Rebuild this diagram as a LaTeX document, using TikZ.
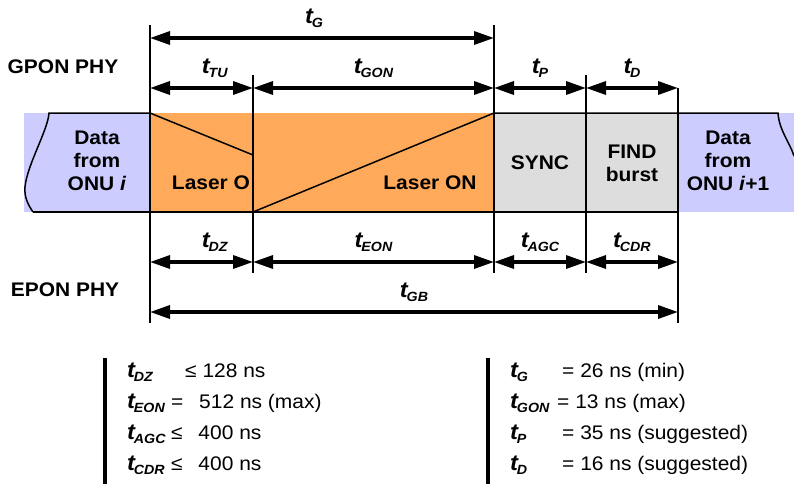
\documentclass[tikz,border=0pt]{standalone}
\usepackage{fontspec}
\setmainfont{Liberation Sans}[FakeStretch=1.065]
\usetikzlibrary{arrows.meta, positioning}
\definecolor{onublue}{RGB}{204,204,255}
\definecolor{laserorange}{RGB}{255,170,90}
\definecolor{syncgray}{RGB}{221,221,221}
\newcommand{\tlab}[1]{{\fontsize{19pt}{20pt}\selectfont\bfseries\itshape t\kern-1pt\raisebox{-3.5pt}{\fontsize{11.4pt}{12pt}\selectfont #1}}}
\tikzset{
  basetext/.style={font=\fontsize{16.8pt}{19.5pt}\selectfont\bfseries, align=center, inner sep=0pt},
  phylabel/.style={basetext},
  blocktext/.style={basetext},
  timelabel/.style={font=\fontsize{16.8pt}{19.5pt}\selectfont, inner sep=0pt, above=2.7mm},
  dimarrow/.style={{Triangle[length=6mm,width=3.9mm]}-{Triangle[length=6mm,width=3.9mm]}, line width=1mm},
  tick/.style={line width=0.45mm},
  outline/.style={line width=0.45mm},
  legendrow/.style={font=\fontsize{16.8pt}{19.5pt}\selectfont, anchor=base west, inner sep=0pt},
  legendbar/.style={line width=1mm}
}

\begin{document}
\begin{tikzpicture}[x=0.3mm, y=-0.3mm]
  \useasboundingbox (0,0) rectangle (794,486);

  % burst band
  \fill[onublue] (24,113) rectangle (150,212);
  \fill[laserorange] (150,113) rectangle (494,212);
  \fill[syncgray] (494,113) rectangle (678,212);
  \fill[onublue] (678,113) rectangle (794,212);
  \draw[outline] (150,113) -- (253,155);
  \draw[outline] (253,212) -- (494,113);
  \draw[outline] (33,212) -- (678,212);
  \draw[outline] (150,113) -- (49,113) .. controls (48,130) and (27,165) .. (25,187)
                 .. controls (24,198) and (29,206) .. (33,212);
  \draw[outline] (494,113) -- (778,113) .. controls (779,130) and (790,143) .. (794,156);

  % ticks
  \foreach \x/\ya/\yb in {150/25/323, 253/75/273, 494/25/273, 586/75/273, 678/88/323}
    \draw[tick] (\x,\ya) -- (\x,\yb);

  \coordinate (gA) at (150,38);
  \coordinate (gB) at (494,38);
  \coordinate (pA) at (150,88);
  \coordinate (pB) at (253,88);
  \coordinate (pC) at (494,88);
  \coordinate (pD) at (586,88);
  \coordinate (pE) at (678,88);
  \coordinate (eA) at (150,262);
  \coordinate (eB) at (253,262);
  \coordinate (eC) at (494,262);
  \coordinate (eD) at (586,262);
  \coordinate (eE) at (678,262);
  \coordinate (gbA) at (150,312);
  \coordinate (gbB) at (678,312);

  % GPON timing
  \draw[dimarrow] (gA) -- node[timelabel, xshift=-2.4mm] (tG) {\tlab{G}} (gB);
  \draw[dimarrow] (pA) -- node[timelabel, xshift=4mm] (tTU) {\tlab{TU}} (pB);
  \draw[dimarrow] (pB) -- node[timelabel] (tGON) {\tlab{GON}} (pC);
  \draw[dimarrow] (pC) -- node[timelabel] (tP) {\tlab{P}} (pD);
  \draw[dimarrow] (pD) -- node[timelabel] (tD) {\tlab{D}} (pE);

  % EPON timing
  \draw[dimarrow] (eA) -- node[timelabel, xshift=4mm] (tDZ) {\tlab{DZ}} (eB);
  \draw[dimarrow] (eB) -- node[timelabel] (tEON) {\tlab{EON}} (eC);
  \draw[dimarrow] (eC) -- node[timelabel] (tAGC) {\tlab{AGC}} (eD);
  \draw[dimarrow] (eD) -- node[timelabel] (tCDR) {\tlab{CDR}} (eE);
  \draw[dimarrow] (gbA) -- node[timelabel] (tGB) {\tlab{GB}} (gbB);

  \node[phylabel] (gpon) at (63,67) {GPON PHY};
  \node[phylabel] (epon) at (65,290) {EPON PHY};

  \node[blocktext] (dataI) at (97,161) {Data\\from\\ONU \textit{i}};
  \node[blocktext] (laserOff) at (211,183) {Laser O};
  \node[blocktext] (laserOn) at (430,183) {Laser ON};
  \node[blocktext] (sync) at (540,163) {SYNC};
  \node[blocktext] (find) at (632,163) {FIND\\burst};
  \node[blocktext] (dataJ) at (728,161) {Data\\from\\ONU \textit{i}+1};

  % legend
  \draw[legendbar] (105,358) -- (105,484);
  \draw[legendbar] (488,358) -- (488,484);

  \node[legendrow] (dzName) at (127,377) {\tlab{DZ}};
  \node[legendrow] (dzVal) at (185,377) {≤ 128 ns};
  \node[legendrow] (eonName) at (127,408) {\tlab{EON}};
  \node[legendrow] (eonVal) at (171,408) {=\hspace{0.8em}512 ns (max)};
  \node[legendrow] (agcName) at (127,439) {\tlab{AGC}};
  \node[legendrow] (agcVal) at (171,439) {≤\hspace{0.8em}400 ns};
  \node[legendrow] (cdrName) at (127,470) {\tlab{CDR}};
  \node[legendrow] (cdrVal) at (171,470) {≤\hspace{0.8em}400 ns};

  \node[legendrow] (gName) at (510,377) {\tlab{G}};
  \node[legendrow] (gVal) at (562,377) {= 26 ns (min)};
  \node[legendrow] (gonName) at (510,408) {\tlab{GON}};
  \node[legendrow] (gonVal) at (557,408) {= 13 ns (max)};
  \node[legendrow] (pName) at (510,439) {\tlab{P}};
  \node[legendrow] (pVal) at (562,439) {= 35 ns (suggested)};
  \node[legendrow] (dName) at (510,470) {\tlab{D}};
  \node[legendrow] (dVal) at (562,470) {= 16 ns (suggested)};
\end{tikzpicture}
\end{document}
